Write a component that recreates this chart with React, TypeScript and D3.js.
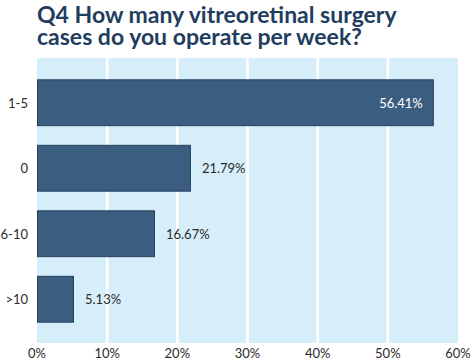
import React, { useEffect, useRef } from 'react';
import * as d3 from 'd3';

const categories = ['1-5', '0', '6-10', '>10'];
const values = [56.41, 21.79, 16.67, 5.13];
const xTicks = [0, 10, 20, 30, 40, 50, 60];
const titleLines = ['Q4 How many vitreoretinal surgery', 'cases do you operate per week?'];

const App: React.FC = () => {
  const ref = useRef<SVGSVGElement>(null);

  useEffect(() => {
    if (!ref.current) return;
    const svg = d3.select(ref.current);
    svg.selectAll('*').remove();

    const width = 471;
    const height = 360;
    const margin = { top: 58, right: 13, bottom: 17, left: 37 };
    const plotW = width - margin.left - margin.right;
    const plotH = height - margin.top - margin.bottom;
    const font = 'Lato, "Open Sans", sans-serif';

    svg.attr('width', width).attr('height', height);
    svg.append('rect').attr('width', width).attr('height', height).attr('fill', '#ffffff');

    // Title, one text per line
    svg.selectAll('.title')
      .data(titleLines)
      .enter()
      .append('text')
      .attr('x', 37)
      .attr('y', (_, i) => 23 + i * 22)
      .style('font-family', font)
      .style('font-size', '23px')
      .style('font-weight', '700')
      .style('fill', '#1f3d5e')
      .text(d => d);

    const g = svg.append('g').attr('transform', `translate(${margin.left},${margin.top})`);

    const x = d3.scaleLinear().domain([0, 60]).range([0, plotW]);
    const y = d3.scaleBand<string>()
      .domain(categories)
      .range([12, 274])
      .paddingInner(0.3)
      .paddingOuter(0.15);

    g.append('rect')
      .attr('width', plotW)
      .attr('height', plotH)
      .attr('fill', '#d6eefa');

    // grid
    g.selectAll('.grid')
      .data(xTicks.slice(1, -1))
      .enter()
      .append('line')
      .attr('x1', d => x(d))
      .attr('x2', d => x(d))
      .attr('y1', 0)
      .attr('y2', plotH)
      .attr('stroke', '#ffffff')
      .attr('stroke-width', 2.5);

    // bars
    g.selectAll('.bar')
      .data(values)
      .enter()
      .append('rect')
      .attr('x', 0.5)
      .attr('y', (_, i) => y(categories[i])!)
      .attr('width', d => x(d))
      .attr('height', y.bandwidth())
      .attr('fill', '#3b5d80')
      .attr('stroke', '#24405e')
      .attr('stroke-width', 1);

    // value labels
    g.selectAll('.val')
      .data(values)
      .enter()
      .append('text')
      .attr('x', d => (d > 40 ? x(d) - 10 : x(d) + 12))
      .attr('y', (_, i) => y(categories[i])! + y.bandwidth() / 2 + 5)
      .attr('text-anchor', d => (d > 40 ? 'end' : 'start'))
      .style('font-family', font)
      .style('font-size', '13px')
      .style('fill', d => (d > 40 ? '#ffffff' : '#2b2b2b'))
      .text(d => `${d.toFixed(2)}%`);

    // category labels
    g.selectAll('.cat')
      .data(categories)
      .enter()
      .append('text')
      .attr('x', -9)
      .attr('y', d => y(d)! + y.bandwidth() / 2 + 5)
      .attr('text-anchor', 'end')
      .style('font-family', font)
      .style('font-size', '13px')
      .style('fill', '#2b2b2b')
      .text(d => d);

    // x tick labels
    g.selectAll('.tick')
      .data(xTicks)
      .enter()
      .append('text')
      .attr('x', d => x(d))
      .attr('y', plotH + 15)
      .attr('text-anchor', 'middle')
      .style('font-family', font)
      .style('font-size', '13px')
      .style('fill', '#2b2b2b')
      .text(d => `${d}%`);
  }, []);

  return (
    <div style={{ position: 'absolute', left: 0, top: 0 }}>
      <svg ref={ref} style={{ display: 'block' }}></svg>
    </div>
  );
};

export default App;
